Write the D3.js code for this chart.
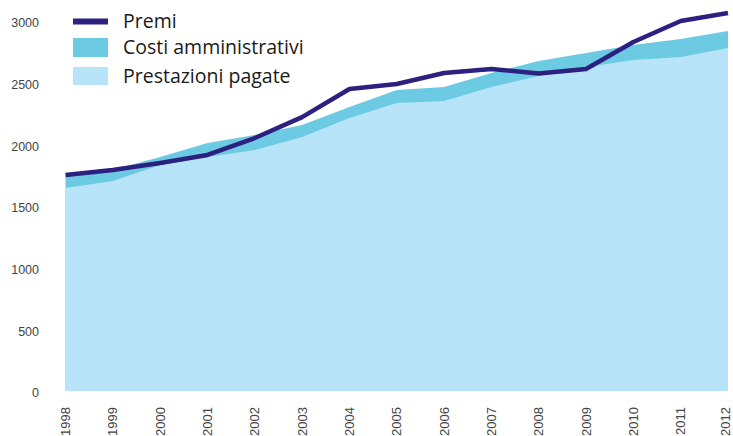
<!DOCTYPE html>
<html>
<head>
<meta charset="utf-8">
<script src="https://cdn.jsdelivr.net/npm/d3@7"></script>
<style>
  html, body { margin: 0; padding: 0; background: #fff; }
  svg { display: block; }
</style>
</head>
<body>
<svg width="733" height="436"></svg>
<script>
const years = [1998, 1999, 2000, 2001, 2002, 2003, 2004, 2005, 2006, 2007, 2008, 2009, 2010, 2011, 2012];
const premi = [1747, 1788, 1845, 1910, 2047, 2217, 2445, 2485, 2574, 2607, 2570, 2607, 2826, 2996, 3061];
// total = prestazioni + costi amministrativi (top of the darker band)
const costiTotale = [1752, 1790, 1893, 2007, 2072, 2153, 2298, 2436, 2461, 2574, 2671, 2736, 2801, 2850, 2915];
const prestazioni = [1642, 1699, 1829, 1893, 1950, 2055, 2210, 2331, 2347, 2461, 2550, 2623, 2680, 2704, 2777];
const yTicks = [0, 500, 1000, 1500, 2000, 2500, 3000];
const legendItems = ["Premi", "Costi amministrativi", "Prestazioni pagate"];

const svg = d3.select("svg");

const x = d3.scaleLinear()
  .domain([1998, 2012])
  .range([65.5, 728]);

const y = d3.scaleLinear()
  .domain([0, 3000])
  .range([390.5, 20.5]);

const data = years.map((yr, i) => ({
  year: yr,
  premi: premi[i],
  totale: costiTotale[i],
  prestazioni: prestazioni[i]
}));

// costi amministrativi band
svg.append("path")
  .datum(data)
  .attr("fill", "#6ccae2")
  .attr("d", d3.area()
    .x(d => x(d.year))
    .y0(y(0))
    .y1(d => y(d.totale)));

// prestazioni pagate
svg.append("path")
  .datum(data)
  .attr("fill", "#b7e4f8")
  .attr("d", d3.area()
    .x(d => x(d.year))
    .y0(y(0))
    .y1(d => y(d.prestazioni)));

// premi line
svg.append("path")
  .datum(data)
  .attr("fill", "none")
  .attr("stroke", "#2c2180")
  .attr("stroke-width", 4.5)
  .attr("stroke-linejoin", "round")
  .attr("d", d3.line()
    .x(d => x(d.year))
    .y(d => y(d.premi)));

// y axis labels
svg.append("g")
  .selectAll("text")
  .data(yTicks)
  .enter()
  .append("text")
  .attr("x", 39)
  .attr("y", d => y(d) + 2.5)
  .attr("dy", "0.35em")
  .attr("text-anchor", "end")
  .attr("font-family", "Liberation Sans, Arial, sans-serif")
  .attr("font-size", 12.5)
  .attr("fill", "#444")
  .text(d => d);

// x axis labels (rotated), last one kept inside the frame
svg.append("g")
  .selectAll("text")
  .data(years)
  .enter()
  .append("text")
  .attr("transform", d => `translate(${Math.min(x(d), 725)},407) rotate(-90)`)
  .attr("dy", "0.35em")
  .attr("text-anchor", "end")
  .attr("font-family", "Liberation Sans, Arial, sans-serif")
  .attr("font-size", 13)
  .attr("fill", "#444")
  .text(d => d);

// legend
const legend = svg.append("g");
const rowY = [21.5, 47.5, 76];

legend.append("rect")
  .attr("x", 73).attr("y", 18.5)
  .attr("width", 35).attr("height", 6)
  .attr("fill", "#2c2180");

legend.append("rect")
  .attr("x", 73).attr("y", 38)
  .attr("width", 35).attr("height", 19)
  .attr("fill", "#6ccae2");

legend.append("rect")
  .attr("x", 73).attr("y", 67)
  .attr("width", 35).attr("height", 18)
  .attr("fill", "#b7e4f8");

legend.selectAll("text")
  .data(legendItems)
  .enter()
  .append("text")
  .attr("x", 123)
  .attr("y", (d, i) => rowY[i])
  .attr("dy", "0.35em")
  .attr("font-family", "Open Sans, sans-serif")
  .attr("font-size", 19.5)
  .attr("fill", "#1a1a1a")
  .text(d => d);
</script>
</body>
</html>
